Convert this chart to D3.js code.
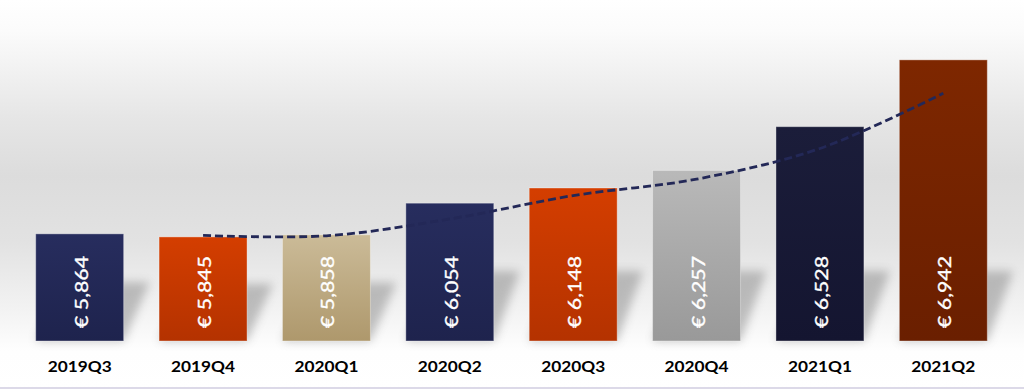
<!DOCTYPE html>
<html>
<head>
<meta charset="utf-8">
<script src="https://cdn.jsdelivr.net/npm/d3@7"></script>
<style>
html,body{margin:0;padding:0;background:#fff;}
svg{display:block;}
</style>
</head>
<body>
<svg id="chart" width="1024" height="390"></svg>
<script>
const categories = ["2019Q3","2019Q4","2020Q1","2020Q2","2020Q3","2020Q4","2021Q1","2021Q2"];
const values = [5864, 5845, 5858, 6054, 6148, 6257, 6528, 6942];
const valueLabels = ["€ 5,864","€ 5,845","€ 5,858","€ 6,054","€ 6,148","€ 6,257","€ 6,528","€ 6,942"];
const trendCategories = ["2019Q4","2020Q1","2020Q2","2020Q3","2020Q4","2021Q1","2021Q2"];
const trendValues = [5854, 5852, 5956, 6101, 6203, 6393, 6735];
const barTop = ["#272d5e","#d43e00","#cbbb98","#272d5e","#d43e00","#b9b9b9","#1b1d3a","#7e2700"];
const barBottom = ["#1e234d","#b43200","#ae986c","#1e234d","#b43200","#999999","#141530","#6a1f00"];

const W = 1024, H = 390;
const svg = d3.select("#chart");
const defs = svg.append("defs");

// background gradient
const bg = defs.append("linearGradient").attr("id","bg").attr("x1",0).attr("y1",0).attr("x2",0).attr("y2",1);
[[0,"#ffffff"],[0.08,"#fbfbfb"],[0.3,"#e6e6e6"],[0.45,"#dcdcdc"],[0.62,"#e2e2e2"],[0.8,"#f3f3f3"],[0.9,"#fefefe"],[1,"#ffffff"]]
  .forEach(([o,c]) => bg.append("stop").attr("offset",o).attr("stop-color",c));
svg.append("rect").attr("x",0).attr("y",0).attr("width",W).attr("height",H).attr("fill","url(#bg)");

// bottom border line
svg.append("line").attr("x1",0).attr("x2",W).attr("y1",388).attr("y2",388)
  .attr("stroke","#dcd9e8").attr("stroke-width",2);

const x = d3.scaleBand().domain(categories).range([18, 1005]).paddingInner(0.287).paddingOuter(0.1435);
const y = d3.scaleLinear().domain([5200, 7000]).range([341, 50.5]);

// bar gradients
categories.forEach((c,i) => {
  const g = defs.append("linearGradient").attr("id","bar"+i).attr("x1",0).attr("y1",0).attr("x2",0).attr("y2",1);
  g.append("stop").attr("offset",0).attr("stop-color",barTop[i]);
  g.append("stop").attr("offset",1).attr("stop-color",barBottom[i]);
});

// shadow filter
const f = defs.append("filter").attr("id","blur").attr("x","-50%").attr("y","-50%").attr("width","200%").attr("height","200%");
f.append("feGaussianBlur").attr("stdDeviation",5);

const data = categories.map((c,i) => ({c, v: values[i], label: valueLabels[i], i}));
const base = y(5200);

// perspective shadows
svg.append("g").selectAll("path").data(data).join("path")
  .attr("d", d => {
    const x0 = x(d.c), x1 = x0 + x.bandwidth();
    const h = Math.min(70, (base - y(d.v)) * 0.55);
    const off = 26;
    return `M${x0},${base} L${x1},${base} L${x1+off},${base-h} L${x0+off},${base-h} Z`;
  })
  .attr("fill","#7a7a7a").attr("opacity",0.45).attr("filter","url(#blur)");

// bars
svg.append("g").selectAll("rect").data(data).join("rect")
  .attr("x", d => x(d.c)).attr("y", d => y(d.v))
  .attr("width", x.bandwidth()).attr("height", d => base - y(d.v))
  .attr("fill", d => `url(#bar${d.i})`)
  .attr("stroke","rgba(255,255,255,0.35)").attr("stroke-width",1);

// trend line
const line = d3.line()
  .x((d,i) => x(trendCategories[i]) + x.bandwidth()/2)
  .y(d => y(d))
  .curve(d3.curveCatmullRom.alpha(0.5));
svg.append("path").datum(trendValues).attr("d", line)
  .attr("fill","none").attr("stroke","#232857").attr("stroke-width",2.8)
  .attr("stroke-dasharray","8,4");

// value labels (rotated)
svg.append("g").selectAll("text").data(data).join("text")
  .attr("transform", d => `translate(${x(d.c) + x.bandwidth()/2 + 8},${base - 13}) rotate(-90)`)
  .attr("text-anchor","start")
  .attr("font-family","Lato, 'Open Sans', sans-serif")
  .attr("font-size",18)
  .attr("textLength",72)
  .attr("lengthAdjust","spacingAndGlyphs")
  .attr("fill","#ffffff")
  .attr("stroke","#ffffff").attr("stroke-width",0.35)
  .text(d => d.label);

// category labels
svg.append("g").selectAll("text").data(data).join("text")
  .attr("x", d => x(d.c) + x.bandwidth()/2).attr("y", 372)
  .attr("text-anchor","middle")
  .attr("font-family","Lato, 'Open Sans', sans-serif")
  .attr("font-weight","bold")
  .attr("font-size",15.5)
  .attr("textLength",64)
  .attr("lengthAdjust","spacingAndGlyphs")
  .attr("fill","#000000")
  .text(d => d.c);
</script>
</body>
</html>
